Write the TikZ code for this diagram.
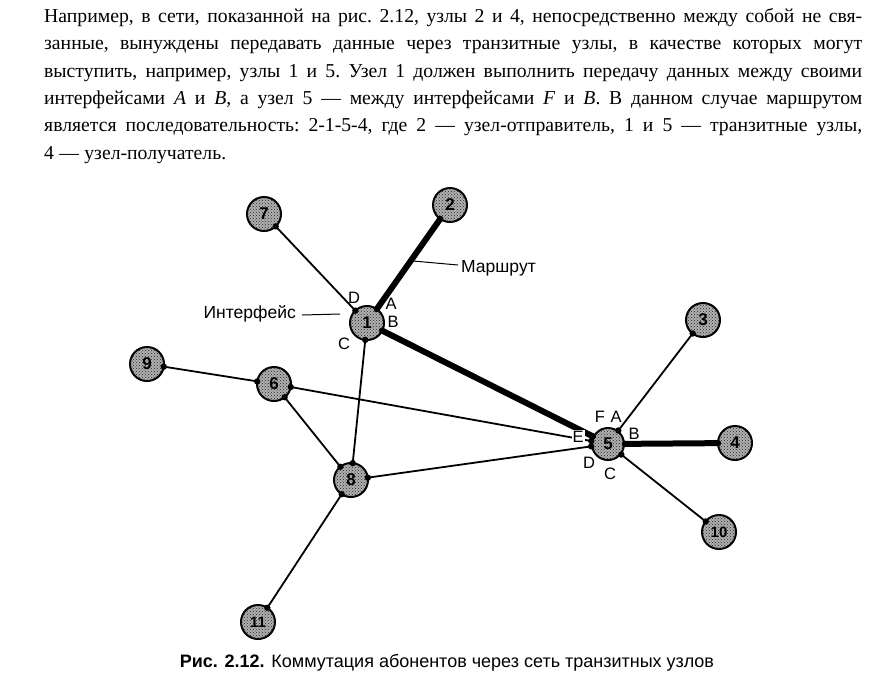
\documentclass[tikz,border=0pt]{standalone}
\usepackage{fontspec}
\setmainfont{Liberation Serif}
\setsansfont{Liberation Sans}
\newfontfamily\bodyfont{Liberation Serif}
\usetikzlibrary{calc,patterns}
\newcommand\jdot[2]{\fill ($(#1)!17pt!(#2)$) circle (3.2pt);}
\newcommand\jline[1]{\leavevmode\hbox to 818pt{#1}}
\newcommand\jspacing{\frenchspacing\spaceskip=0.27em plus 2em minus 0.1em\relax}
\tikzset{
  netnode/.style={circle, draw=black, line width=2pt, fill=gray!62, minimum size=34pt, inner sep=0pt,
    postaction={pattern=crosshatch dots, pattern color=black!85},
    font=\sffamily\bfseries\fontsize{17}{17}\selectfont, text=black},
  twodigit/.style={font=\sffamily\bfseries\fontsize{15}{15}\selectfont},
  thinlink/.style={line width=1.8pt},
  routelink/.style={line width=6pt},
  portlabel/.style={font=\sffamily\fontsize{16.5}{16.5}\selectfont, inner sep=0pt},
  calloutlabel/.style={font=\sffamily\fontsize{17.5}{17.5}\selectfont, inner sep=0pt},
  calloutline/.style={line width=1pt},
}
\begin{document}
\begin{tikzpicture}[x=1pt,y=-1pt]
\useasboundingbox (0,0) rectangle (874,691);
\node[anchor=north west, inner sep=0pt, text width=818pt, align=left,
  font=\bodyfont\fontsize{19.7}{27.4}\selectfont] (para) at (44,8) {\jspacing
\jline{Например, в сети, показанной на рис. 2.12, узлы 2 и 4, непосредственно между собой не свя-}\\
\jline{занные, вынуждены передавать данные через транзитные узлы, в качестве которых могут}\\
\jline{выступить, например, узлы 1 и 5. Узел 1 должен выполнить передачу данных между своими}\\
\jline{интерфейсами \textit{A} и \textit{B}, а узел 5 — между интерфейсами \textit{F} и \textit{B}. В данном случае маршрутом}\\
\jline{является последовательность: 2-1-5-4, где 2 — узел-отправитель, 1 и 5 — транзитные узлы,}\\
4 — узел-получатель.};

\node[netnode] (n7) at (264,214) {7};
\node[netnode] (n2) at (450,205) {2};
\node[netnode] (n1) at (367,323) {1};
\node[netnode] (n3) at (703,320) {3};
\node[netnode] (n9) at (147,364) {9};
\node[netnode] (n6) at (274,384) {6};
\node[netnode, minimum size=32pt] (n5) at (608,444) {5};
\node[netnode] (n4) at (735,443) {4};
\node[netnode] (n8) at (351,480) {8};
\node[netnode, twodigit] (n10) at (719,532) {10};
\node[netnode, twodigit] (n11) at (258,622) {11};

\draw[thinlink] (n7) -- (n1);
\draw[routelink] (n2) -- (n1);
\draw[routelink] (n1) -- (n5);
\draw[thinlink] (n1) -- (n8);
\draw[thinlink] (n9) -- (n6);
\draw[thinlink] (n6) -- (n5);
\draw[thinlink] (n6) -- (n8);
\draw[thinlink] (n8) -- (n5);
\draw[thinlink] (n8) -- (n11);
\draw[thinlink] (n5) -- (n3);
\draw[routelink] (n5) -- (n4);
\draw[thinlink] (n5) -- (n10);

\jdot{n7}{n1} \jdot{n1}{n7}
\jdot{n2}{n1} \jdot{n1}{n2}
\jdot{n1}{n5} \jdot{n5}{n1}
\jdot{n1}{n8} \jdot{n8}{n1}
\jdot{n9}{n6} \jdot{n6}{n9}
\jdot{n6}{n5} \jdot{n5}{n6}
\jdot{n6}{n8} \jdot{n8}{n6}
\jdot{n8}{n5} \jdot{n5}{n8}
\jdot{n8}{n11} \jdot{n11}{n8}
\jdot{n5}{n3} \jdot{n3}{n5}
\jdot{n5}{n4} \jdot{n4}{n5}
\jdot{n5}{n10} \jdot{n10}{n5}

\node[portlabel] (l1d) at (354,298) {D};
\node[portlabel] (l1a) at (391,304) {A};
\node[portlabel] (l1b) at (393,322) {B};
\node[portlabel] (l1c) at (344,344) {C};
\node[portlabel] (l5f) at (600,417) {F};
\node[portlabel] (l5a) at (616,417) {A};
\node[portlabel] (l5b) at (634,434) {B};
\node[portlabel, fill=white, inner sep=1pt] (l5e) at (578,437) {E};
\node[portlabel] (l5d) at (589,463) {D};
\node[portlabel] (l5c) at (610,474) {C};

\node[calloutlabel, anchor=east] (intf) at (296,314) {Интерфейс};
\coordinate (intfA) at (302,315);
\coordinate (intfB) at (340,314);
\draw[calloutline] (intfA) -- (intfB);
\node[calloutlabel, anchor=west] (route) at (461,268) {Маршрут};
\coordinate (routeA) at (413,261);
\coordinate (routeB) at (458,265);
\draw[calloutline] (routeA) -- (routeB);

\node[inner sep=0pt, font=\sffamily\fontsize{18}{18}\selectfont] (caption) at (447,663)
  {\textbf{Рис. 2.12.} Коммутация абонентов через сеть транзитных узлов};
\end{tikzpicture}
\end{document}
